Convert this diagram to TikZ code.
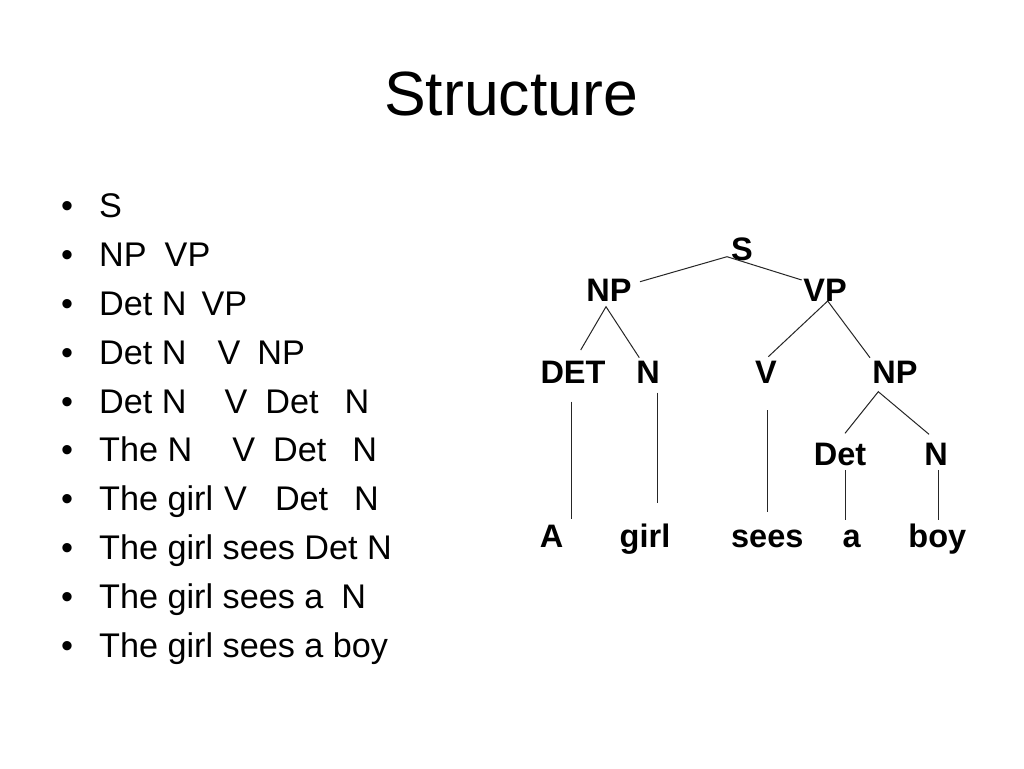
\documentclass[tikz,border=0pt]{standalone}
\usepackage{fontspec}
\setmainfont{Liberation Sans}
\begin{document}
\begin{tikzpicture}[x=1pt,y=-1pt,
  titletext/.style={anchor=base,inner sep=0pt,font=\fontsize{62.5}{70}\selectfont},
  bulletmark/.style={anchor=base,inner sep=0pt,font=\fontsize{34.2}{40}\selectfont},
  bullettext/.style={anchor=base west,inner sep=0pt,font=\fontsize{34.2}{40}\selectfont},
  treelabel/.style={anchor=base,inner sep=0pt,font=\fontsize{32.5}{38}\selectfont\bfseries},
  branch/.style={draw=black!85,line width=1pt}]
\fill[white] (0,0) rectangle (1024,768);
\useasboundingbox (0,0) rectangle (1024,768);

% title
\node[titletext] (title) at (511,115) {Structure};

% bullet list
\foreach \i in {0,...,9} {
  \node[bulletmark] (b\i) at (67,{217.7+48.84*\i}) {•};
}
\node[bullettext] (t0) at (99,217.7) {S};
\node[bullettext] (t1) at (99,266.5) {NP\hspace{18pt}VP};
\node[bullettext] (t2) at (99,315.4) {Det N\hspace{15pt}VP};
\node[bullettext] (t3) at (99,364.2) {Det N\hspace{31pt}V\hspace{17pt}NP};
\node[bullettext] (t4) at (99,413.1) {Det N\hspace{38pt}V\hspace{18pt}Det\hspace{26pt}N};
\node[bullettext] (t5) at (99,461.9) {The N\hspace{40pt}V\hspace{18pt}Det\hspace{26pt}N};
\node[bullettext] (t6) at (99,510.7) {The girl\hspace{11pt}V\hspace{28pt}Det\hspace{26pt}N};
\node[bullettext] (t7) at (99,559.6) {The girl sees Det N};
\node[bullettext] (t8) at (99,608.4) {The girl sees a\hspace{18pt}N};
\node[bullettext] (t9) at (99,657.3) {The girl sees a boy};

% tree labels
\node[treelabel] (S)    at (742,260) {S};
\node[treelabel] (NP1)  at (609,301) {NP};
\node[treelabel] (VP)   at (825,301) {VP};
\node[treelabel] (DET)  at (573,383) {DET};
\node[treelabel] (N1)   at (648,383) {N};
\node[treelabel] (V)    at (766,383) {V};
\node[treelabel] (NP2)  at (895,383) {NP};
\node[treelabel] (Det)  at (840,465) {Det};
\node[treelabel] (N2)   at (936,465) {N};
\node[treelabel] (A)    at (551.7,547) {A};
\node[treelabel] (girl) at (645,547) {girl};
\node[treelabel] (sees) at (767.3,547) {sees};
\node[treelabel] (a)    at (851.7,547) {a};
\node[treelabel] (boy)  at (937.3,547) {boy};

% branch end points
\coordinate (Sapex)  at (727,256.7);
\coordinate (SL)     at (640,281.7);
\coordinate (SR)     at (801.7,280);
\coordinate (NPapex) at (606,306.7);
\coordinate (NPL)    at (580.7,350);
\coordinate (NPR)    at (639.3,357.7);
\coordinate (VPapex) at (827.7,301);
\coordinate (VPL)    at (768.3,356.7);
\coordinate (VPR)    at (870,357.7);
\coordinate (DETt)   at (571.7,401.7);
\coordinate (DETb)   at (571.7,519.3);
\coordinate (N1t)    at (657,392.7);
\coordinate (N1b)    at (657,502.7);
\coordinate (Vt)     at (767.7,410);
\coordinate (Vb)     at (767.7,511.7);
\coordinate (NP2apex) at (878.3,391.7);
\coordinate (NP2L)   at (845,433.3);
\coordinate (NP2R)   at (929,434.3);
\coordinate (Dett)   at (845,470);
\coordinate (Detb)   at (845,520);
\coordinate (N2t)    at (938.3,470);
\coordinate (N2b)    at (938.3,520);

% branches
\draw[branch] (SL) -- (Sapex) -- (SR);
\draw[branch] (NPL) -- (NPapex) -- (NPR);
\draw[branch] (VPL) -- (VPapex) -- (VPR);
\draw[branch] (DETt) -- (DETb);
\draw[branch] (N1t) -- (N1b);
\draw[branch] (Vt) -- (Vb);
\draw[branch] (NP2L) -- (NP2apex) -- (NP2R);
\draw[branch] (Dett) -- (Detb);
\draw[branch] (N2t) -- (N2b);
\end{tikzpicture}
\end{document}
